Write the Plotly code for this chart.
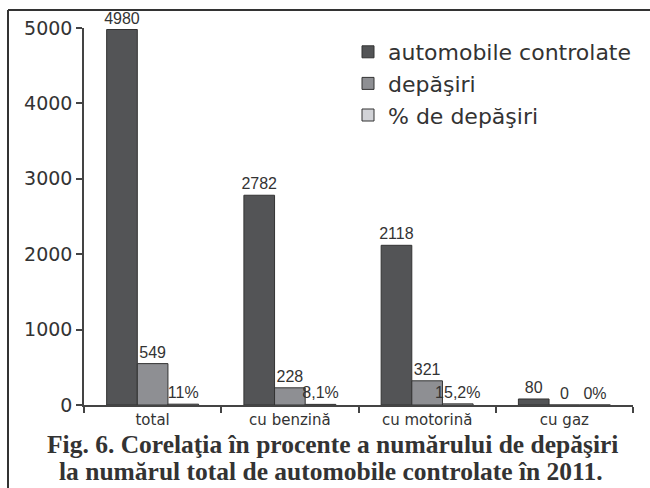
import plotly.graph_objects as go

categories = ["total", "cu benzină", "cu motorină", "cu gaz"]
automobile_controlate = [4980, 2782, 2118, 80]
depasiri = [549, 228, 321, 0]
procent_depasiri = [11, 8.1, 15.2, 0]
y_ticks = [0, 1000, 2000, 3000, 4000, 5000]

series_names = ["automobile controlate", "depăşiri", "% de depăşiri"]
colors = ["#535456", "#8e8f93", "#d2d3d7"]

W, H = 650, 488
L, R, T, B = 84, 17, 28, 83

def fmt_pct(v):
    return f"{v:g}".replace(".", ",") + "%"

label_font = dict(family="Liberation Sans, Arial, sans-serif", size=16, color="#333333")

fig = go.Figure()
series = [
    (automobile_controlate, [str(v) for v in automobile_controlate]),
    (depasiri, [str(v) for v in depasiri]),
    (procent_depasiri, [fmt_pct(v) for v in procent_depasiri]),
]
for i, (vals, txt) in enumerate(series):
    fig.add_trace(go.Bar(
        x=categories, y=vals, name=series_names[i],
        text=txt, textposition="outside", textfont=label_font,
        constraintext="none", cliponaxis=False,
        marker=dict(color=colors[i], line=dict(color="#333333", width=1)),
        legendgroup=f"g{i}",
    ))

pw = W - L - R
ph = H - T - B
def px(x):
    return (x - L) / pw
def py(y):
    return (H - B - y) / ph

cap_font = dict(family="Liberation Serif, serif", size=25.5, color="#333333", weight="bold")

fig.update_layout(
    width=W, height=H,
    margin=dict(l=L, r=R, t=T, b=B),
    paper_bgcolor="white", plot_bgcolor="white",
    barmode="group", bargap=0.33, bargroupgap=0,
    showlegend=True,
    legend=dict(
        x=px(348), y=py(31), xanchor="left", yanchor="top",
        font=dict(family="DejaVu Sans, sans-serif", size=22, color="#333333"),
        tracegroupgap=0, bgcolor="rgba(0,0,0,0)",
    ),
    xaxis=dict(
        type="category", tickson="boundaries", ticks="outside", ticklen=6,
        tickcolor="#444444", tickwidth=1.5,
        showline=True, linecolor="#444444", linewidth=1.5,
        showgrid=False, zeroline=False,
        tickfont=dict(family="DejaVu Sans, sans-serif", size=15, color="#333333"),
    ),
    yaxis=dict(
        range=[0, 5000], tickvals=y_ticks, ticks="outside", ticklen=6,
        tickcolor="#444444", tickwidth=1.5,
        showline=True, linecolor="#444444", linewidth=1.5,
        showgrid=False, zeroline=False,
        tickfont=dict(family="DejaVu Sans, sans-serif", size=19, color="#333333"),
    ),
    shapes=[
        dict(type="line", xref="paper", yref="paper", x0=px(8), x1=px(660), y0=py(10), y1=py(10),
             line=dict(color="#333333", width=2)),
        dict(type="line", xref="paper", yref="paper", x0=px(8), x1=px(8), y0=py(10), y1=py(500),
             line=dict(color="#333333", width=2)),
    ],
    annotations=[
        dict(xref="paper", yref="paper", x=px(332), y=py(444), xanchor="center", yanchor="middle",
             showarrow=False, text="Fig. 6. Corelaţia în procente a numărului de depăşiri",
             font=cap_font),
        dict(xref="paper", yref="paper", x=px(331), y=py(471), xanchor="center", yanchor="middle",
             showarrow=False, text="la numărul total de automobile controlate în 2011.",
             font=cap_font),
    ],
)

fig.write_html("out.html", config={"displayModeBar": False},
               post_script="document.body.style.margin='0';document.body.style.overflow='hidden';")
